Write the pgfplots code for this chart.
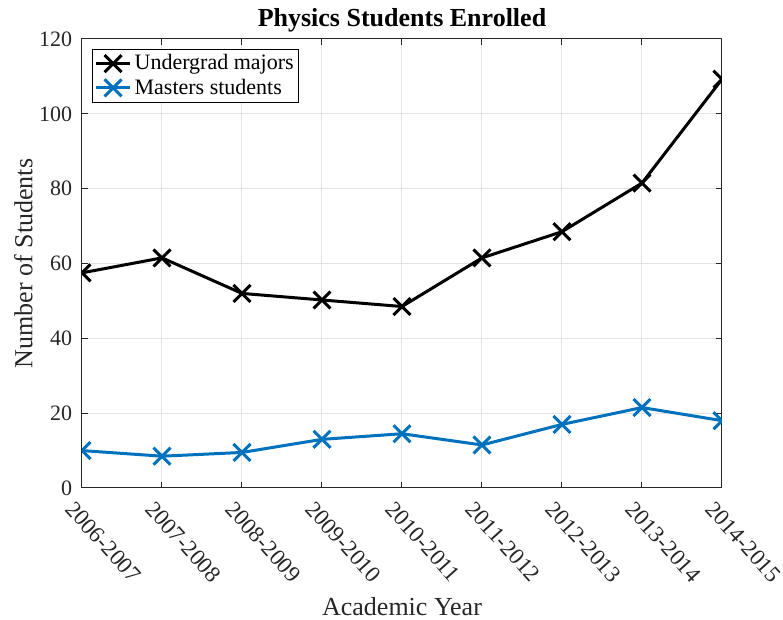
\documentclass[border=0pt]{standalone}
\usepackage{fontspec}
\setmainfont{Liberation Serif}
\usepackage{pgfplots}
\pgfplotsset{compat=1.18}
\definecolor{mblue}{rgb}{0,0.447,0.741}
\definecolor{axgray}{rgb}{0.15,0.15,0.15}
\begin{document}
\begin{tikzpicture}
\begin{axis}[name=ax,
  scale only axis, width=320pt, height=224.5pt,
  xmin=0, xmax=8, ymin=0, ymax=120,
  xtick={0,1,2,3,4,5,6,7,8},
  xticklabels={2006-2007,2007-2008,2008-2009,2009-2010,2010-2011,2011-2012,2012-2013,2013-2014,2014-2015},
  ytick={0,20,40,60,80,100,120},
  tick align=inside, major tick length=3pt,
  grid=major, major grid style={color=black!11, line width=0.5pt},
  axis line style={axgray, line width=0.5pt},
  every tick/.style={axgray, line width=0.5pt},
  tick label style={font=\fontsize{11}{13}\selectfont, text=axgray},
  /pgf/number format/assume math mode=true,
  xticklabel style={font=\fontsize{11.5}{13}\selectfont, xshift=-2.95pt, yshift=-4.2pt, rotate=-48, anchor=north west, inner sep=1pt},
  yticklabel style={anchor=east, inner sep=0pt, xshift=-4.7pt},
  title={\textbf{Physics Students Enrolled}},
  title style={at={(axis description cs:0.5,1)}, anchor=base, yshift=0.25pt, font=\fontsize{13}{15}\selectfont, text=black},
  xlabel={Academic Year},
  xlabel style={at={(axis description cs:0.5,-0.283)}, anchor=base, font=\fontsize{13}{15}\selectfont, text=axgray},
  ylabel={Number of Students},
  ylabel style={at={(axis description cs:-0.0777,0.5)}, anchor=base, font=\fontsize{13}{15}\selectfont, text=axgray},
  legend style={at={(axis description cs:0,1)}, anchor=north west, xshift=5pt, yshift=-5pt,
    draw=black, line width=0.5pt, font=\fontsize{11}{12}\selectfont, text=black,
    inner sep=1pt, row sep=0pt, nodes={inner sep=1.5pt}},
  legend cell align=left,
  clip marker paths=true,
]
\addplot[black, line width=1.5pt, mark=x, mark size=6pt] coordinates {
  (0,57.5) (1,61.5) (2,52) (3,50.25) (4,48.5) (5,61.5) (6,68.5) (7,81.5) (8,109.25)};
\addlegendentry{Undergrad majors}
\addplot[mblue, line width=1.5pt, mark=x, mark size=6pt] coordinates {
  (0,10) (1,8.5) (2,9.5) (3,13) (4,14.5) (5,11.5) (6,17) (7,21.5) (8,18)};
\addlegendentry{Masters students}
\end{axis}
\pgfresetboundingbox
\path (ax.south west) ++(-41pt,-66pt) rectangle ++(391.5pt,310pt);
\end{tikzpicture}
\end{document}
